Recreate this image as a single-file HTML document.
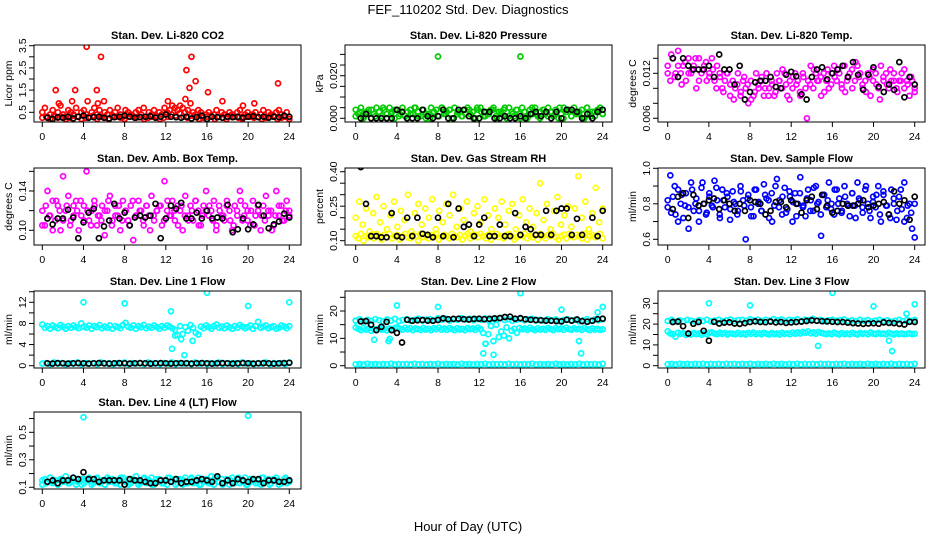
<!DOCTYPE html>
<html><head><meta charset="utf-8">
<style>
html,body{margin:0;padding:0;background:#fff;}
svg{display:block;font-family:"Liberation Sans",sans-serif;}
</style></head>
<body>
<svg id="chart" width="936" height="540" viewBox="0 0 936 540" xmlns="http://www.w3.org/2000/svg">
<rect x="0" y="0" width="936" height="540" fill="#fff"/>
<text x="468" y="14" font-size="13" text-anchor="middle">FEF_110202  Std. Dev. Diagnostics</text>
<text x="468" y="531" font-size="13" text-anchor="middle">Hour of Day (UTC)</text>
<g id="panels"></g>
</svg>
<script>
const xTickHours = [0,4,8,12,16,20,24];
const co2Red = [0.5,0.7,0.3,0.4,0.6,0.3,0.5,0.8,0.4,0.3,0.6,0.5,0.4,0.7,0.3,0.5,0.6,0.4,0.3,0.5,0.7,0.4,0.6,0.3,0.5,0.4,0.6,0.3,0.5,0.7,0.4,0.3,0.6,0.5,0.4,0.3,0.5,0.6,0.4,0.7,0.3,0.5,0.4,0.6,0.3,0.5,0.4,0.7,0.5,0.6,0.8,0.7,0.6,0.8,0.7,0.5,0.6,0.9,0.5,0.4,0.6,0.5,0.3,0.4,0.5,0.3,0.4,0.6,0.3,0.5,0.4,0.3,0.5,0.4,0.3,0.5,0.6,0.3,0.4,0.5,0.3,0.4,0.5,0.3,0.4,0.6,0.3,0.5,0.4,0.3,0.5,0.6,0.4,0.3,0.5,0.2];
const co2RedLow = [0.25,0.3,0.2,0.35,0.25,0.3,0.2,0.25,0.35,0.3,0.2,0.25,0.3,0.35,0.2,0.3,0.25,0.2,0.35,0.3,0.25,0.2,0.3,0.35,0.25,0.3,0.2,0.25,0.3,0.35,0.2,0.25,0.3,0.4,0.35,0.45,0.3,0.25,0.35,0.3,0.2,0.25,0.3,0.35,0.2,0.3,0.25,0.2,0.35,0.3,0.25,0.2,0.3,0.35,0.25,0.3,0.2,0.25,0.3,0.35,0.2,0.25,0.3,0.2];
const co2OutHours = [1.3,1.6,2.9,3.2,4.3,4.4,5.3,5.4,5.7,6.0,12.2,13.9,14.0,14.3,14.5,14.9,16.1,17.5,19.5,20.6,22.9];
const co2OutValues = [1.5,0.9,1.0,1.5,3.45,1.0,1.5,0.9,3.0,1.0,1.0,1.1,2.4,1.6,3.0,1.9,1.4,1.0,0.8,0.9,1.8];
const co2Black = [0.25,0.2,0.28,0.25,0.3,0.22,0.3,0.35,0.25,0.28,0.3,0.25,0.22,0.28,0.3,0.35,0.3,0.25,0.28,0.3,0.32,0.25,0.3,0.4,0.3,0.28,0.25,0.3,0.22,0.28,0.35,0.2,0.3,0.28,0.25,0.3,0.28,0.3,0.25,0.3,0.32,0.28,0.3,0.25,0.3,0.28,0.35,0.3];

const presGreen = [0.004,0.002,0.005,0.001,0.003,0.004,0.000,0.002,0.005,0.003,0.001,0.004,0.002,0.005,0.003,0.000,0.004,0.002,0.005,0.001,0.003,0.004,0.002,0.005,0.003,0.001,0.004,0.000,0.002,0.005,0.003,0.004,0.001,0.005,0.002,0.003,0.004,0.000,0.005,0.002,0.003,0.001,0.004,0.005,0.002,0.003,0.000,0.004,0.005,0.001,0.003,0.002,0.004,0.005,0.001,0.003,0.002,0.004,0.000,0.005,0.003,0.001,0.004,0.002,0.005,0.003,0.000,0.004,0.002,0.005,0.001,0.003,0.004,0.002,0.005,0.003,0.001,0.004,0.000,0.002,0.005,0.003,0.004,0.001,0.005,0.002,0.003,0.004,0.000,0.005,0.002,0.003,0.001,0.004,0.005,0.002];
const presGreen2 = [0.001,0.003,0.0,0.002,0.004,0.001,0.003,0.005,0.0,0.002,0.004,0.001,0.003,0.0,0.002,0.005,0.001,0.004,0.002,0.0,0.003,0.001,0.005,0.002,0.004,0.0,0.003,0.001,0.002,0.004,0.0,0.005,0.003,0.001,0.002,0.004,0.0,0.003,0.005,0.001,0.002,0.004,0.0,0.003,0.001,0.005,0.002,0.0,0.004,0.001,0.003,0.002,0.005,0.0,0.004,0.001,0.003,0.002,0.0,0.005,0.001,0.003,0.004,0.002];
const presOutHours = [8,16,24];
const presOutValues = [0.029,0.029,0.036];
const presBlack = [0.0,0.002,0.0,0.0,0.0,0.0,0.0,0.004,0.003,0.0,0.0,0.0,0.004,0.001,0.0,0.001,0.004,0.0,0.0,0.004,0.004,0.001,0.0,0.0,0.003,0.003,0.0,0.0,0.001,0.0,0.0,0.001,0.0,0.002,0.003,0.001,0.003,0.0,0.003,0.0,0.004,0.004,0.003,0.0,0.002,0.0,0.003,0.004];

const tempMag = [0.013,0.011,0.014,0.012,0.015,0.012,0.013,0.011,0.014,0.012,0.013,0.010,0.014,0.012,0.013,0.011,0.012,0.014,0.011,0.013,0.012,0.010,0.011,0.012,0.009,0.011,0.010,0.012,0.009,0.011,0.010,0.008,0.011,0.009,0.012,0.010,0.011,0.009,0.012,0.010,0.011,0.009,0.012,0.011,0.010,0.012,0.009,0.011,0.010,0.012,0.011,0.009,0.012,0.010,0.011,0.013,0.010,0.012,0.011,0.009,0.012,0.011,0.010,0.012,0.013,0.011,0.012,0.010,0.013,0.011,0.012,0.010,0.011,0.013,0.012,0.010,0.011,0.012,0.009,0.011,0.012,0.010,0.013,0.011,0.012,0.010,0.011,0.012,0.010,0.011,0.012,0.010,0.011,0.009,0.011,0.010];
const tempMag2 = [0.012,0.0145,0.0115,0.013,0.0105,0.0135,0.012,0.0125,0.014,0.011,0.0125,0.0135,0.0115,0.0125,0.01,0.0115,0.0095,0.012,0.0105,0.0085,0.0105,0.0095,0.0115,0.0105,0.0085,0.0095,0.0105,0.0115,0.01,0.009,0.0105,0.0095,0.011,0.0125,0.0105,0.0085,0.0115,0.0105,0.0095,0.0115,0.006,0.0105,0.0125,0.011,0.0115,0.0095,0.0125,0.0105,0.0115,0.0125,0.0105,0.0095,0.0115,0.0125,0.0135,0.0115,0.0105,0.0095,0.0115,0.0125,0.0105,0.0085,0.0115,0.0105,0.0125,0.011,0.0095,0.011,0.0125,0.0105,0.0115,0.0095];
const tempBlack = [0.014,0.0115,0.014,0.013,0.0125,0.0125,0.0125,0.013,0.0115,0.0145,0.0125,0.0125,0.0105,0.013,0.0085,0.0095,0.0108,0.011,0.011,0.0115,0.0102,0.01,0.0118,0.0122,0.0116,0.0092,0.0085,0.0115,0.0125,0.0128,0.0112,0.012,0.0125,0.013,0.0115,0.0135,0.0118,0.0098,0.0118,0.0128,0.0102,0.0095,0.0105,0.0098,0.0135,0.0088,0.0115,0.0105];

const boxMag = [0.12,0.105,0.14,0.115,0.13,0.11,0.125,0.1,0.155,0.12,0.135,0.11,0.125,0.13,0.1,0.115,0.125,0.16,0.11,0.12,0.13,0.105,0.115,0.125,0.095,0.12,0.135,0.11,0.125,0.115,0.1,0.13,0.12,0.11,0.125,0.09,0.115,0.13,0.12,0.105,0.125,0.115,0.135,0.11,0.12,0.125,0.105,0.15,0.12,0.115,0.13,0.11,0.125,0.12,0.1,0.135,0.115,0.125,0.11,0.13,0.12,0.105,0.125,0.14,0.115,0.12,0.13,0.105,0.125,0.115,0.11,0.13,0.12,0.1,0.125,0.115,0.14,0.11,0.125,0.12,0.105,0.13,0.115,0.12,0.1,0.125,0.135,0.115,0.12,0.105,0.14,0.115,0.125,0.11,0.13,0.12];
const boxMag2 = [0.105,0.125,0.115,0.1,0.13,0.12,0.11,0.125,0.105,0.115,0.12,0.13,0.11,0.12,0.105,0.125,0.115,0.11,0.12,0.13,0.105,0.115,0.125,0.11,0.12,0.105,0.13,0.115,0.12,0.11,0.125,0.1,0.115,0.12,0.125,0.11,0.13,0.115,0.12,0.105,0.125,0.115,0.11,0.12,0.13,0.105,0.115,0.12,0.125,0.11,0.1,0.12,0.115,0.125,0.11,0.105,0.12,0.13,0.115,0.11,0.12,0.105,0.125,0.115,0.11,0.12,0.1,0.115,0.125,0.11,0.12,0.115];
const boxBlack = [0.112,0.106,0.112,0.112,0.121,0.113,0.092,0.108,0.118,0.122,0.092,0.104,0.11,0.127,0.112,0.118,0.105,0.113,0.115,0.113,0.115,0.127,0.092,0.112,0.125,0.122,0.128,0.112,0.112,0.118,0.112,0.12,0.112,0.113,0.112,0.126,0.098,0.101,0.112,0.101,0.106,0.126,0.115,0.102,0.106,0.109,0.117,0.113];

const rhYellow = [0.12,0.11,0.13,0.1,0.12,0.115,0.125,0.11,0.13,0.12,0.105,0.125,0.115,0.13,0.11,0.12,0.125,0.105,0.12,0.13,0.115,0.11,0.125,0.12,0.1,0.13,0.115,0.12,0.11,0.125,0.12,0.13,0.105,0.115,0.125,0.12,0.11,0.13,0.12,0.115,0.125,0.105,0.12,0.13,0.11,0.12,0.125,0.115,0.13,0.12,0.11,0.125,0.105,0.12,0.13,0.115,0.12,0.11,0.125,0.13,0.12,0.105,0.115,0.125,0.12,0.13,0.11,0.12,0.115,0.125,0.105,0.13,0.12,0.11,0.125,0.12,0.13,0.115,0.105,0.12,0.125,0.11,0.13,0.12,0.115,0.125,0.12,0.11,0.13,0.105,0.12,0.125,0.115,0.12,0.13,0.11];
const rhYellow2 = [0.2,0.27,0.17,0.24,0.14,0.22,0.29,0.18,0.25,0.15,0.21,0.27,0.16,0.23,0.19,0.3,0.14,0.22,0.26,0.17,0.24,0.2,0.28,0.15,0.23,0.18,0.26,0.21,0.3,0.16,0.24,0.19,0.27,0.14,0.22,0.25,0.18,0.28,0.21,0.15,0.24,0.2,0.27,0.17,0.23,0.26,0.15,0.21,0.28,0.18,0.24,0.16,0.22,0.35,0.19,0.26,0.15,0.23,0.29,0.17,0.21,0.25,0.16,0.24,0.38,0.2,0.27,0.15,0.22,0.33,0.18,0.24];
const rhBlack = [0.42,0.26,0.12,0.12,0.115,0.115,0.22,0.12,0.115,0.2,0.12,0.2,0.13,0.125,0.115,0.2,0.12,0.26,0.115,0.24,0.16,0.17,0.12,0.17,0.2,0.12,0.12,0.17,0.12,0.12,0.22,0.125,0.16,0.15,0.125,0.125,0.23,0.125,0.23,0.24,0.24,0.125,0.195,0.125,0.43,0.2,0.12,0.23];

const flowBlue = [0.78,0.96,0.84,0.74,0.88,0.8,0.72,0.86,0.78,0.92,0.76,0.83,0.7,0.89,0.8,0.75,0.86,0.79,0.93,0.82,0.74,0.88,0.78,0.84,0.71,0.87,0.8,0.76,0.9,0.82,0.6,0.85,0.78,0.73,0.88,0.81,0.76,0.91,0.83,0.72,0.86,0.79,0.94,0.82,0.74,0.89,0.77,0.84,0.7,0.86,0.8,0.95,0.78,0.73,0.88,0.82,0.76,0.9,0.81,0.62,0.85,0.78,0.92,0.8,0.74,0.88,0.83,0.76,0.9,0.8,0.73,0.86,0.79,0.92,0.82,0.75,0.88,0.8,0.72,0.84,0.78,0.9,0.7,0.85,0.79,0.74,0.88,0.8,0.71,0.84,0.77,0.92,0.72,0.8,0.66,0.61];
const flowBlue2 = [0.82,0.75,0.9,0.7,0.85,0.79,0.66,0.88,0.8,0.76,0.92,0.74,0.84,0.78,0.89,0.72,0.82,0.86,0.77,0.81,0.74,0.87,0.79,0.83,0.73,0.88,0.8,0.76,0.85,0.82,0.7,0.9,0.78,0.84,0.75,0.87,0.81,0.73,0.86,0.79,0.83,0.76,0.89,0.8,0.74,0.85,0.82,0.77,0.88,0.8,0.75,0.84,0.79,0.86,0.72,0.83,0.78,0.9,0.76,0.81,0.85,0.74,0.87,0.79,0.72,0.83,0.76,0.88,0.7,0.79,0.75,0.8];
const flowBlack = [0.77,0.84,0.86,0.72,0.85,0.79,0.8,0.82,0.83,0.77,0.82,0.8,0.76,0.8,0.76,0.82,0.81,0.8,0.74,0.76,0.81,0.81,0.78,0.82,0.8,0.75,0.82,0.84,0.77,0.85,0.79,0.75,0.76,0.8,0.79,0.79,0.8,0.82,0.78,0.79,0.8,0.81,0.74,0.87,0.8,0.82,0.71,0.84];

const line1High = [7.8,7.2,7.5,7.0,7.6,7.3,7.1,7.7,7.4,7.0,7.5,7.2,7.6,7.3,7.1,8.0,7.4,7.2,7.6,7.0,7.5,7.3,7.7,7.1,7.4,7.2,7.6,7.0,7.5,7.3,7.1,7.7,8.1,7.4,7.2,7.6,7.0,7.5,7.3,7.7,7.1,7.4,7.2,7.6,7.3,7.0,7.5,7.2,7.6,7.4,7.1,6.8,5.8,7.5,6.0,7.3,6.6,7.7,7.2,6.2,5.9,7.4,7.1,7.6,7.3,7.0,7.5,7.8,7.2,7.4,7.1,7.6,7.3,7.0,7.5,7.2,7.7,7.4,7.1,7.3,7.6,7.0,7.5,8.3,7.2,7.4,7.6,7.1,7.3,7.5,7.0,7.2,7.6,7.4,7.1,7.5];
const line1Low = [0.4,0.5,0.3,0.6,0.4,0.5,0.3,0.5,0.4,0.6,0.3,0.5,0.4,0.5,0.3,0.6,0.4,0.5,0.3,0.5,0.4,0.6,0.3,0.5,0.4,0.5,0.3,0.6,0.4,0.5,0.3,0.5,0.4,0.6,0.3,0.5,0.4,0.5,0.3,0.6,0.4,0.5,0.3,0.5,0.4,0.6,0.3,0.5,0.4,0.5,0.3,0.6,0.4,0.5,0.3,0.5,0.4,0.6,0.3,0.5,0.4,0.5,0.3,0.6];
const line1OutHours = [4,8,12.5,12.6,12.9,13.5,13.8,14.6,16,20,24];
const line1OutValues = [12,11.8,10.3,3.2,5.7,5,2,4.7,13.8,11.3,12];
const line1Black = [0.45,0.4,0.5,0.45,0.4,0.45,0.5,0.45,0.4,0.45,0.5,0.45,0.4,0.45,0.5,0.45,0.4,0.45,0.5,0.45,0.4,0.45,0.5,0.45,0.4,0.45,0.5,0.45,0.4,0.45,0.5,0.45,0.4,0.45,0.5,0.45,0.4,0.45,0.5,0.45,0.4,0.45,0.5,0.45,0.4,0.45,0.5,0.55];

const line2High = [16.5,17,16.2,16.8,16.4,17,16.6,16.2,16.9,16.5,17.1,16.3,16.7,17,16.4,16.8,17.2,16.5,16.9,17,16.6,17.3,16.8,17.1,16.5,17,16.7,17.4,16.9,17.2,16.6,17,16.8,17.3,16.5,17.1,16.9,17.5,16.7,17,16.4,16.8,17.1,16.6,16.9,17.2,16.5,16.8,16.4,17,16.6,16.9,16.3,16.7,17,16.5,16.8,16.2,16.6,17,16.4,16.9,16.6,17];
const line2Mid = [14,13.5,13,13.8,13.2,13.6,12.8,13.4,13,13.7,13.2,13.5,12.9,13.6,13.1,13.8,14,13.5,13.2,13.9,13.3,13.7,13,13.6,13.4,13.1,13.8,13.2,13.5,13,13.7,13.3,13.9,13.2,13.6,13.1,13.8,13.4,13,13.7,13.2,13.5,13,13.8,13.3,13.6,13.1,13.9,13.4,12,8,11.5,14.5,9,15,10.5,12.5,11,14,10,12.8,13.5,12,13.8,13.3,13.6,13.1,13.9,13.4,13,13.7,13.2,13.5,13.1,13.8,13.4,13,13.7,13.3,13.6,13.1,13.9,13.4,13.2,13.7,13.3,13.5,13.1,13.8,13.4,13,13.6,13.2,13.5,13.1,13.3];
const line2Low = [0.5,0.6,0.4,0.7,0.5,0.6,0.4,0.6,0.5,0.7,0.4,0.6,0.5,0.6,0.4,0.7,0.5,0.6,0.4,0.6,0.5,0.7,0.4,0.6,0.5,0.6,0.4,0.7,0.5,0.6,0.4,0.6,0.5,0.7,0.4,0.6,0.5,0.6,0.4,0.7,0.5,0.6,0.4,0.6,0.5,0.7,0.4,0.6,0.5,0.6,0.4,0.7,0.5,0.6,0.4,0.6,0.5,0.7,0.4,0.6,0.5,0.6,0.4,0.7];
const line2OutHours = [1.8,3.2,3.3,4,8,12.4,12.6,13.4,16,20,21.7,21.9,23.5,24];
const line2OutValues = [9.5,9,9.8,22,21.5,4.5,8,4,26.5,20.5,9,4.5,19.5,21.5];
const line2Black = [16.2,16.3,15,13,14.2,16,13,12,8.5,16.8,16.4,16.6,16.7,16.5,16.4,16.7,17.3,17,17.1,17.2,17,16.9,17.1,17.2,17,17.1,17.3,17.4,17.8,17.9,17.2,17.4,17,16.8,16.7,16.6,16.5,16.4,16.3,16.2,16.8,16.5,16.9,16.3,16.1,16.4,17,17.2];

const line3High = [21.5,22,21.2,21.8,21.4,22,21.6,21.2,21.9,21.5,22.1,21.3,21.7,22,21.4,21.8,22.2,21.5,21.9,22,21.6,22.3,21.8,22.1,21.5,22,21.7,22.4,21.9,22.2,21.6,22,21.8,22.3,21.5,22.1,21.9,22.5,21.7,22,21.4,21.8,22.1,21.6,21.9,22.2,21.5,21.8,21.4,22,21.6,21.9,21.3,21.7,22,21.5,21.8,21.2,21.6,22,21.4,21.9,21.6,22];
const line3Mid = [16.5,15.5,15.2,14,15.8,15.3,15.6,14.8,15.4,15,15.7,15.2,15.5,14.9,15.6,15.1,15.8,16,15.5,15.2,15.9,15.3,15.7,15,15.6,15.4,15.1,15.8,15.2,15.5,15,15.7,15.3,15.9,15.2,15.6,15.1,15.8,15.4,15,15.7,15.2,15.5,15,15.8,15.3,15.6,15.1,15.9,15.4,16,15.5,16.2,15.8,16.5,15.6,16,15.4,16.2,15.8,15.5,15.2,15.6,15.1,15.9,15.4,15,15.7,15.2,15.5,15.1,15.8,15.4,15,15.7,15.3,15.6,15.1,15.9,15.4,15.2,15.7,15.3,15.5,15.1,15.8,15.4,15,15.6,15.2,15.5,15.1,15.3,15.6,15.2,15.4];
const line3Low = [0.7,0.8,0.6,0.9,0.7,0.8,0.6,0.8,0.7,0.9,0.6,0.8,0.7,0.8,0.6,0.9,0.7,0.8,0.6,0.8,0.7,0.9,0.6,0.8,0.7,0.8,0.6,0.9,0.7,0.8,0.6,0.8,0.7,0.9,0.6,0.8,0.7,0.8,0.6,0.9,0.7,0.8,0.6,0.8,0.7,0.9,0.6,0.8,0.7,0.8,0.6,0.9,0.7,0.8,0.6,0.8,0.7,0.9,0.6,0.8,0.7,0.8,0.6,0.9];
const line3OutHours = [4,8,14.6,16,20,21.5,21.8,23.2,24];
const line3OutValues = [30,29,9.5,35,28.5,12,7,25,29.5];
const line3Black = [21,21.2,19,15.5,20.2,21,16.8,12,21.1,20.3,20.7,20.8,20.3,20.1,20.5,21,21.3,21,20.9,21.2,20.8,21,20.6,20.8,21,21.2,21.5,21.8,21.6,21.4,21.3,21.1,21,21,20.7,20.5,20.3,20.1,20.3,20.4,20.2,20.8,20.6,20.5,20.1,19.8,21.1,21];

const line4Cyan = [0.12,0.16,0.14,0.17,0.13,0.15,0.12,0.16,0.14,0.18,0.13,0.15,0.17,0.12,0.14,0.16,0.13,0.15,0.17,0.12,0.14,0.16,0.13,0.15,0.12,0.17,0.14,0.16,0.13,0.15,0.12,0.17,0.14,0.16,0.13,0.15,0.18,0.12,0.14,0.16,0.13,0.15,0.17,0.12,0.14,0.16,0.13,0.15,0.12,0.17,0.14,0.16,0.13,0.15,0.12,0.17,0.14,0.16,0.13,0.15,0.17,0.12,0.14,0.16,0.13,0.18,0.12,0.17,0.14,0.16,0.13,0.15,0.12,0.17,0.14,0.16,0.13,0.15,0.17,0.12,0.14,0.16,0.13,0.15,0.12,0.17,0.14,0.16,0.13,0.15,0.17,0.12,0.14,0.16,0.13,0.15];
const line4Cyan2 = [0.15,0.13,0.17,0.14,0.12,0.16,0.15,0.13,0.17,0.14,0.12,0.16,0.15,0.13,0.17,0.14,0.12,0.16,0.15,0.13,0.17,0.14,0.12,0.16,0.15,0.13,0.17,0.14,0.12,0.16,0.15,0.13,0.17,0.14,0.12,0.16,0.15,0.13,0.17,0.14,0.12,0.16,0.15,0.13,0.17,0.14,0.12,0.16,0.15,0.13,0.17,0.14,0.12,0.16,0.15,0.13,0.17,0.14,0.12,0.16,0.15,0.13,0.17,0.14];
const line4OutHours = [4,20];
const line4OutValues = [0.61,0.62];
const line4Black = [0.14,0.15,0.13,0.15,0.15,0.17,0.16,0.21,0.16,0.16,0.14,0.15,0.15,0.15,0.15,0.12,0.16,0.15,0.15,0.14,0.13,0.13,0.15,0.15,0.14,0.16,0.13,0.14,0.14,0.15,0.16,0.15,0.14,0.18,0.13,0.15,0.13,0.16,0.15,0.14,0.16,0.16,0.13,0.15,0.15,0.14,0.14,0.15];

const NS = "http://www.w3.org/2000/svg";
const colBox = [34, 345, 658];
const colX0 = [42.3, 355.7, 667.7];
const rowTop = [45, 168, 291, 412];
const boxW = 267, boxH = 77;

function mk(tag, attrs, parent) {
  const e = document.createElementNS(NS, tag);
  for (const k in attrs) e.setAttribute(k, attrs[k]);
  parent.appendChild(e);
  return e;
}
function evenHours(n) { const h = []; for (let i = 0; i < n; i++) h.push(i * 24 / (n - 1)); return h; }
function blackHours(n) { const h = []; for (let i = 0; i < n; i++) h.push(0.5 + i * 23.5 / (n - 1)); return h; }

const panels = [
  {name:"co2", title:"Stan. Dev. Li-820 CO2", ylab:"Licor ppm", col:0,row:0, v0:0.5,p0:112.3,v1:3.5,p1:45.7,
   ticks:[0.5,1,1.5,2,2.5,3,3.5], labels:["0.5","","1.5","","2.5","","3.5"],
   series:[[null,co2Red,"#ff0000"],[null,co2RedLow,"#ff0000"],[co2OutHours,co2OutValues,"#ff0000"],["b",co2Black,"#000"]]},
  {name:"pressure", title:"Stan. Dev. Li-820 Pressure", ylab:"kPa", col:1,row:0, v0:0,p0:118.3,v1:0.02,p1:75.7,
   ticks:[0,0.005,0.01,0.015,0.02,0.025,0.03], labels:["0.000","","","","0.020","",""],
   series:[[null,presGreen,"#00cc00"],[null,presGreen2,"#00cc00"],[presOutHours,presOutValues,"#00cc00"],["b",presBlack,"#000"]]},
  {name:"li820-temp", title:"Stan. Dev. Li-820 Temp.", ylab:"degrees C", col:2,row:0, v0:0.006,p0:118.3,v1:0.012,p1:73.3,
   ticks:[0.006,0.008,0.01,0.012,0.014], labels:["0.006","","","0.012",""],
   series:[[null,tempMag,"#ff00ff"],[null,tempMag2,"#ff00ff"],["b",tempBlack,"#000"]]},
  {name:"box-temp", title:"Stan. Dev. Amb. Box Temp.", ylab:"degrees C", col:0,row:1, v0:0.10,p0:230.3,v1:0.14,p1:191,
   ticks:[0.1,0.12,0.14,0.16], labels:["0.10","","0.14",""],
   series:[[null,boxMag,"#ff00ff"],[null,boxMag2,"#ff00ff"],["b",boxBlack,"#000"]]},
  {name:"gas-rh", title:"Stan. Dev. Gas Stream RH", ylab:"percent", col:1,row:1, v0:0.10,p0:240.7,v1:0.40,p1:171.7,
   ticks:[0.1,0.15,0.2,0.25,0.3,0.35,0.4], labels:["0.10","","","0.25","","","0.40"],
   series:[[null,rhYellow,"#ffff00"],[null,rhYellow2,"#ffff00"],["b",rhBlack,"#000"]]},
  {name:"sample-flow", title:"Stan. Dev. Sample Flow", ylab:"ml/min", col:2,row:1, v0:0.6,p0:239.3,v1:1.0,p1:168.3,
   ticks:[0.6,0.7,0.8,0.9,1.0], labels:["0.6","","0.8","","1.0"],
   series:[[null,flowBlue,"#0000ff"],[null,flowBlue2,"#0000ff"],["b",flowBlack,"#000"]]},
  {name:"line1-flow", title:"Stan. Dev. Line 1 Flow", ylab:"ml/min", col:0,row:2, v0:0,p0:365.7,v1:12,p1:302.3,
   ticks:[0,2,4,6,8,10,12,14], labels:["0","","4","","8","","12",""],
   series:[[null,line1High,"#00ffff"],[null,line1Low,"#00ffff"],[line1OutHours,line1OutValues,"#00ffff"],["b",line1Black,"#000"]]},
  {name:"line2-flow", title:"Stan. Dev. Line 2 Flow", ylab:"ml/min", col:1,row:2, v0:0,p0:365.7,v1:20,p1:311,
   ticks:[0,5,10,15,20,25], labels:["0","","10","","20",""],
   series:[[null,line2High,"#00ffff"],[null,line2Mid,"#00ffff"],[null,line2Low,"#00ffff"],[line2OutHours,line2OutValues,"#00ffff"],["b",line2Black,"#000"]]},
  {name:"line3-flow", title:"Stan. Dev. Line 3 Flow", ylab:"ml/min", col:2,row:2, v0:0,p0:365.7,v1:30,p1:303.3,
   ticks:[0,5,10,15,20,25,30], labels:["0","","10","","20","","30"],
   series:[[null,line3High,"#00ffff"],[null,line3Mid,"#00ffff"],[null,line3Low,"#00ffff"],[line3OutHours,line3OutValues,"#00ffff"],["b",line3Black,"#000"]]},
  {name:"line4-flow", title:"Stan. Dev. Line 4 (LT) Flow", ylab:"ml/min", col:0,row:3, v0:0.1,p0:487.3,v1:0.5,p1:432.3,
   ticks:[0.1,0.2,0.3,0.4,0.5,0.6], labels:["0.1","","0.3","","0.5",""],
   series:[[null,line4Cyan,"#00ffff"],[null,line4Cyan2,"#00ffff"],[line4OutHours,line4OutValues,"#00ffff"],["b",line4Black,"#000"]]}
];

const root = document.getElementById("panels");
const defs = mk("defs", {}, root);
panels.forEach((p, pi) => {
  const bx = colBox[p.col], by = rowTop[p.row];
  const x0 = colX0[p.col];
  const xScale = h => x0 + h * 247 / 24;
  const yScale = v => p.p0 + (v - p.v0) * (p.p1 - p.p0) / (p.v1 - p.v0);
  const g = mk("g", {}, root);
  
  
  const cp = mk("clipPath", {id: "clip" + pi}, defs);
  mk("rect", {x: bx, y: by, width: boxW, height: boxH}, cp);

  const t = mk("text", {x: bx + boxW / 2, y: by - 6, "font-size": 11, "font-weight": "bold", "text-anchor": "middle"}, g);
  t.textContent = p.title;
  
  

  const yl = mk("text", {x: 0, y: 0, "font-size": 10.5, "text-anchor": "middle", transform: `translate(${bx - 22},${by + boxH / 2}) rotate(-90)`}, g);
  yl.textContent = p.ylab;
  
  

  const mg = mk("g", {"clip-path": `url(#clip${pi})`, fill: "none", "stroke-width": 1.7}, g);
  
  
  p.series.forEach(s => {
    const vals = s[1];
    const hrs = s[0] === "b" ? blackHours(vals.length) : (s[0] ? s[0] : evenHours(vals.length));
    vals.forEach((v, i) => {
      const c = mk("circle", {cx: xScale(hrs[i]).toFixed(1), cy: yScale(v).toFixed(1), r: 2.5, stroke: s[2]}, mg);
      
      
    });
  });

  const box = mk("rect", {x: bx, y: by, width: boxW, height: boxH, fill: "none", stroke: "#000", "stroke-width": 1}, g);
  
  

  xTickHours.forEach(h => {
    const x = xScale(h);
    const tk = mk("line", {x1: x, x2: x, y1: by + boxH, y2: by + boxH + 5, stroke: "#000"}, g);
    
    
    const tl = mk("text", {x: x, y: by + boxH + 18, "font-size": 10.5, "text-anchor": "middle"}, g);
    tl.textContent = h;
    
    
  });
  p.ticks.forEach((v, i) => {
    const y = yScale(v);
    const tk = mk("line", {x1: bx, x2: bx - 5, y1: y, y2: y, stroke: "#000"}, g);
    
    
    if (p.labels[i]) {
      const tl = mk("text", {x: 0, y: 0, "font-size": 10.5, "text-anchor": "middle", transform: `translate(${bx - 8},${y}) rotate(-90)`}, g);
      tl.textContent = p.labels[i];
      
      
    }
  });
});
</script>
</body></html>
